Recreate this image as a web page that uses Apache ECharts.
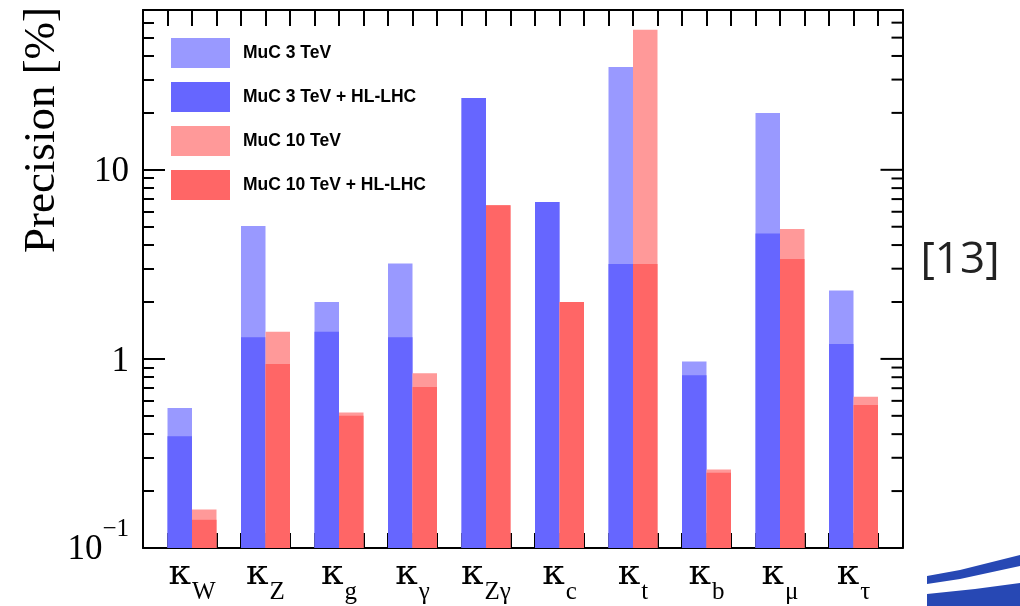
<!DOCTYPE html>
<html>
<head>
<meta charset="utf-8">
<script src="https://cdn.jsdelivr.net/npm/echarts@6/dist/echarts.min.js"></script>
<style>
  html, body { margin: 0; padding: 0; background: #fff; }
  #wrap { position: relative; width: 1020px; height: 606px; }
  #chart { width: 1020px; height: 606px; }
  .ytick { position: absolute; height: 2px; background: #000; z-index: 10000; pointer-events: none; }
</style>
</head>
<body>
<div id="wrap"><div id="chart"></div></div>
<script>
// Higgs coupling modifiers and their projected precision [%]
const couplings = ['W', 'Z', 'g', 'γ', 'Zγ', 'c', 't', 'b', 'μ', 'τ'];
const muc3     = [0.55, 5.05, 2.0, 3.2, 24, 6.75, 35, 0.97, 20, 2.3];
const muc3HL   = [0.39, 1.3, 1.39, 1.3, 24, 6.75, 3.18, 0.82, 4.6, 1.2];
const muc10    = [0.16, 1.39, 0.52, 0.84, 6.5, 2.0, 55, 0.26, 4.87, 0.63];
const muc10HL  = [0.141, 0.94, 0.50, 0.71, 6.5, 2.0, 3.18, 0.25, 3.38, 0.57];

const seriesNames = ['MuC 3 TeV', 'MuC 3 TeV + HL-LHC', 'MuC 10 TeV', 'MuC 10 TeV + HL-LHC'];
const seriesColors = ['#9999ff', '#6666ff', '#ff9999', '#ff6666'];

// y axis range and tick marks
const yMin = 0.1, yMax = 70;
const yLabelValues = [0.1, 1, 10];
const yLabelTexts = ['{e|10}{sup|−1}\n{gap|}', '{b|1}', '{b|10}'];
const yMajorTicks = [0.1, 1, 10];
const yMinorTicks = [0.2, 0.3, 0.4, 0.5, 0.6, 0.7, 0.8, 0.9,
                     2, 3, 4, 5, 6, 7, 8, 9,
                     20, 30, 40, 50, 60];

// x tick spacing: each coupling occupies three slots (gap, 3 TeV, 10 TeV)
const xSlots = 31;

const PLOT_LEFT = 143, PLOT_TOP = 10, PLOT_H = 538;
const SLOT = 24.5;
const BAND_W = SLOT * 3 * couplings.length;
const MAJOR_LEN = 22, MINOR_LEN = 11;

const chart = echarts.init(document.getElementById('chart'), null, { renderer: 'canvas' });

function yLabel(v) {
  for (let i = 0; i < yLabelValues.length; i++) {
    if (Math.abs(Math.log10(v) - Math.log10(yLabelValues[i])) < 1e-6) return yLabelTexts[i];
  }
  return '';
}

const serif = 'Liberation Serif';

const staticGraphics = [
  {
    type: 'text', x: 42, y: 130, rotation: Math.PI / 2,
    style: {
      text: 'Precision [%]', fontFamily: serif, fontSize: 45, fill: '#000',
      textAlign: 'center', textVerticalAlign: 'middle'
    }
  },
  {
    type: 'text', x: 960, y: 260,
    style: {
      text: '[13]', fontFamily: 'Open Sans', fontSize: 44, fill: '#222',
      textAlign: 'center', textVerticalAlign: 'middle'
    }
  },
  {
    type: 'polygon', silent: true,
    shape: { points: [[927, 576], [960, 570], [1020, 555], [1020, 566], [960, 579], [927, 584]] },
    style: { fill: '#2748b4' }
  },
  {
    type: 'polygon', silent: true,
    shape: { points: [[927, 594], [975, 589], [1020, 583], [1020, 606], [927, 606]] },
    style: { fill: '#2748b4' }
  }
];

const option = {
  animation: false,
  backgroundColor: '#fff',
  grid: [
    { left: PLOT_LEFT, top: PLOT_TOP, width: SLOT * xSlots, height: PLOT_H },
    { left: PLOT_LEFT, top: PLOT_TOP, width: BAND_W, height: PLOT_H },
    { left: PLOT_LEFT + SLOT, top: PLOT_TOP, width: BAND_W, height: PLOT_H },
    { left: PLOT_LEFT + SLOT / 2, top: PLOT_TOP, width: BAND_W, height: PLOT_H }
  ],
  legend: {
    orient: 'vertical',
    left: 171,
    top: 38,
    padding: 0,
    itemWidth: 59,
    itemHeight: 30,
    itemGap: 14,
    icon: 'rect',
    selectedMode: false,
    data: seriesNames,
    textStyle: {
      fontFamily: 'Liberation Sans',
      fontWeight: 'bold',
      fontSize: 17.5,
      color: '#000',
      padding: [0, 0, 0, 8]
    }
  },
  xAxis: [
    {
      gridIndex: 0, type: 'value', min: 0, max: xSlots, interval: 1, position: 'bottom',
      axisLine: { show: true, lineStyle: { color: '#000', width: 2 } },
      axisTick: { show: true, inside: true, length: 15, lineStyle: { color: '#000', width: 2 } },
      axisLabel: { show: false }, splitLine: { show: false }
    },
    {
      gridIndex: 0, type: 'value', min: 0, max: xSlots, interval: 1, position: 'top',
      axisLine: { show: true, lineStyle: { color: '#000', width: 2 } },
      axisTick: { show: true, inside: true, length: 16, lineStyle: { color: '#000', width: 2 } },
      axisLabel: { show: false }, splitLine: { show: false }
    },
    { gridIndex: 1, type: 'category', data: couplings, show: false },
    { gridIndex: 2, type: 'category', data: couplings, show: false },
    {
      gridIndex: 3, type: 'category', data: couplings,
      axisLine: { show: false }, axisTick: { show: false },
      axisLabel: {
        margin: 9,
        interval: 0,
        formatter: c => '{k|κ}{s|' + c + '}',
        rich: {
          k: { fontFamily: 'DejaVu Serif', fontSize: 36, color: '#000', lineHeight: 40, verticalAlign: 'top' },
          s: { fontFamily: serif, fontSize: 25, color: '#000', lineHeight: 25, verticalAlign: 'top', padding: [23, 0, 0, 1] }
        }
      }
    }
  ],
  yAxis: [
    {
      gridIndex: 0, type: 'log', min: yMin, max: yMax, position: 'left',
      axisLine: { show: true, onZero: false, lineStyle: { color: '#000', width: 2 } },
      axisTick: { show: false }, splitLine: { show: false }, minorTick: { show: false },
      axisLabel: {
        margin: 14,
        showMinLabel: true, showMaxLabel: true,
        formatter: yLabel,
        rich: {
          b: { fontFamily: serif, fontSize: 35, color: '#000', lineHeight: 40, verticalAlign: 'bottom' },
          e: { fontFamily: serif, fontSize: 35, color: '#000', lineHeight: 50, verticalAlign: 'bottom' },
          sup: { fontFamily: serif, fontSize: 25, color: '#000', lineHeight: 25, verticalAlign: 'top' },
          gap: { fontSize: 1, lineHeight: 12 }
        }
      }
    },
    {
      gridIndex: 0, type: 'log', min: yMin, max: yMax, position: 'right',
      axisLine: { show: true, onZero: false, lineStyle: { color: '#000', width: 2 } },
      axisTick: { show: false }, splitLine: { show: false }, axisLabel: { show: false }
    },
    { gridIndex: 1, type: 'log', min: yMin, max: yMax, startValue: yMin, show: false },
    { gridIndex: 2, type: 'log', min: yMin, max: yMax, startValue: yMin, show: false },
    { gridIndex: 3, type: 'value', show: false }
  ],
  series: [
    {
      name: seriesNames[0], type: 'bar', xAxisIndex: 2, yAxisIndex: 2, z: 2,
      barWidth: SLOT, barGap: '-100%', data: muc3, itemStyle: { color: seriesColors[0] }
    },
    {
      name: seriesNames[1], type: 'bar', xAxisIndex: 2, yAxisIndex: 2, z: 2,
      barWidth: SLOT, barGap: '-100%', data: muc3HL, itemStyle: { color: seriesColors[1] }
    },
    {
      name: seriesNames[2], type: 'bar', xAxisIndex: 3, yAxisIndex: 3, z: 2,
      barWidth: SLOT, barGap: '-100%', data: muc10, itemStyle: { color: seriesColors[2] }
    },
    {
      name: seriesNames[3], type: 'bar', xAxisIndex: 3, yAxisIndex: 3, z: 2,
      barWidth: SLOT, barGap: '-100%', data: muc10HL, itemStyle: { color: seriesColors[3] }
    }
  ],
  graphic: staticGraphics
};

chart.setOption(option);

// Log-scale ticks (decades and 2..9) on both vertical sides of the frame, placed through the axes
const gridRect = chart.getModel().getComponent('grid', 0).coordinateSystem.getRect();
const frameLeft = gridRect.x;
const frameRight = gridRect.x + gridRect.width;
const allTicks = yMajorTicks.map(v => [MAJOR_LEN, v]).concat(yMinorTicks.map(v => [MINOR_LEN, v]));

const rightTicks = allTicks.map(([len, v]) => {
  const y = chart.convertToPixel({ yAxisIndex: 0 }, v);
  return {
    type: 'polyline', zlevel: 2, silent: true,
    shape: { points: [[frameRight - len, y], [frameRight, y]] },
    style: { stroke: '#000', lineWidth: 2, fill: null }
  };
});
chart.setOption({ graphic: staticGraphics.concat(rightTicks) });

// left-side ticks as an overlay layer above the chart canvas
const wrap = document.getElementById('wrap');
allTicks.forEach(([len, v]) => {
  const y = chart.convertToPixel({ yAxisIndex: 0 }, v);
  const el = document.createElement('div');
  el.className = 'ytick';
  el.style.left = frameLeft + 'px';
  el.style.top = (y - 1) + 'px';
  el.style.width = len + 'px';
  wrap.appendChild(el);
});
</script>
</body>
</html>
